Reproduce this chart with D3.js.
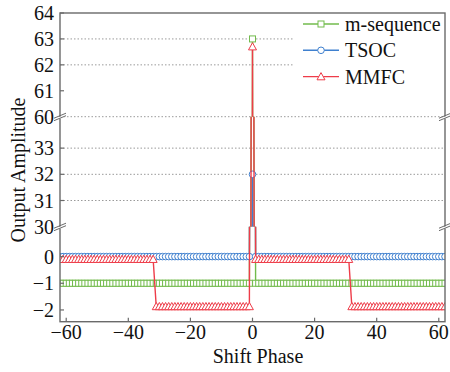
<!DOCTYPE html>
<html>
<head>
<meta charset="utf-8">
<script src="https://cdn.jsdelivr.net/npm/d3@7"></script>
<style>
  body { margin: 0; background: #fff; }
  text { font-family: "Liberation Serif", "DejaVu Serif", serif; fill: #111; }
</style>
</head>
<body>
<script>
// ---- data ----
const shiftPhase = d3.range(-62, 63);          // x categories, one per integer shift
// each series as runs of [value, count] over shiftPhase, left to right
const mseqRuns = [[-1, 62], [63, 1], [-1, 62]];
const tsocRuns = [[0, 62], [32, 1], [0, 62]];
const mmfcRuns = [[-0.1, 31], [-1.87, 31], [62.7, 1], [-0.1, 31], [-1.87, 31]];

const seriesNames = ["m-sequence", "TSOC", "MMFC"];
const xTicks = [-60, -40, -20, 0, 20, 40, 60];
const topTicks = [60, 61, 62, 63, 64];
const midTicks = [30, 31, 32, 33];
const botTicks = [-2, -1, 0];
const topGrid = [60, 62, 63];
const midGrid = [31, 32, 33];

// ---- layout ----
const W = 450, H = 372;
const L = 60, R = 445, T = 13, B = 321.7;
const brk1 = 116.7, brk2 = 226.7;
const axisCol = "#6a6a6a";
const colors = ["#72bb4c", "#3f80cf", "#ee3c49"];
const shapes = ["square", "circle", "triangle"];

let expand = function(runs) {
    let out = [];
    runs.forEach(function(r) { for (let k = 0; k < r[1]; k++) out.push(r[0]); });
    return out.map(function(v, i) { return {x: shiftPhase[i], y: v}; });
};
const series = [expand(mseqRuns), expand(tsocRuns), expand(mmfcRuns)];

const xScale = d3.scaleLinear().domain([-62, 62]).range([L, R]);
const panels = [
    {y: d3.scaleLinear().domain([60, 64]).range([brk1, T]), ticks: topTicks, grid: topGrid},
    {y: d3.scaleLinear().domain([30, 34.2]).range([brk2, brk1]), ticks: midTicks, grid: midGrid},
    {y: d3.scaleLinear().domain([-2.44, 1.12]).range([B, brk2]), ticks: botTicks, grid: []}
];

const svg = d3.select("body").append("svg")
    .attr("width", W).attr("height", H);

// markers
let drawMarker = function(g, shape, cx, cy, col) {
    if (shape === "square") {
        g.append("rect").attr("x", cx - 3).attr("y", cy - 3)
            .attr("width", 6).attr("height", 6)
            .attr("fill", "#fff").attr("stroke", col).attr("stroke-width", 1);
    } else if (shape === "circle") {
        g.append("circle").attr("cx", cx).attr("cy", cy).attr("r", 3.3)
            .attr("fill", "#fff").attr("stroke", col).attr("stroke-width", 1);
    } else {
        g.append("path")
            .attr("d", "M" + cx + "," + (cy - 4) + "L" + (cx + 4) + "," + (cy + 3.2) + "L" + (cx - 4) + "," + (cy + 3.2) + "Z")
            .attr("fill", "#fff").attr("stroke", col).attr("stroke-width", 1);
    }
};

// panels
panels.forEach(function(p, pi) {
    const y0 = p.y.range()[1], y1 = p.y.range()[0];
    const clipId = "clip" + pi;
    svg.append("clipPath").attr("id", clipId)
        .append("rect").attr("x", L).attr("y", y0).attr("width", R - L).attr("height", y1 - y0);

    // grid
    svg.append("g").selectAll("line").data(p.grid).enter().append("line")
        .attr("x1", L).attr("x2", R)
        .attr("y1", function(d) { return p.y(d); })
        .attr("y2", function(d) { return p.y(d); })
        .attr("stroke", "#9a9a9a").attr("stroke-width", 1)
        .attr("stroke-dasharray", "1.5,2");

    const g = svg.append("g").attr("clip-path", "url(#" + clipId + ")");
    const line = d3.line().x(function(d) { return xScale(d.x); }).y(function(d) { return p.y(d.y); });
    series.forEach(function(s, si) {
        g.append("path").datum(s).attr("d", line)
            .attr("fill", "none").attr("stroke", colors[si]).attr("stroke-width", 1.4);
        s.forEach(function(d) {
            const cy = p.y(d.y);
            if (cy < y0 - 6 || cy > y1 + 6) return;
            drawMarker(g, shapes[si], xScale(d.x), cy, colors[si]);
        });
    });
});

// legend
const leg = svg.append("g");
leg.append("rect").attr("x", 293).attr("y", T + 1).attr("width", R - 294).attr("height", 76).attr("fill", "#fff");
seriesNames.forEach(function(name, i) {
    const ly = 24 + i * 26.3;
    leg.append("line").attr("x1", 303).attr("x2", 339).attr("y1", ly).attr("y2", ly)
        .attr("stroke", colors[i]).attr("stroke-width", 1.4);
    drawMarker(leg, shapes[i], 321, ly, colors[i]);
    leg.append("text").attr("x", 345).attr("y", ly).attr("dy", "0.35em")
        .style("font-size", "20px").text(name);
});

// frame
svg.append("rect").attr("x", L).attr("y", T).attr("width", R - L).attr("height", B - T)
    .attr("fill", "none").attr("stroke", axisCol).attr("stroke-width", 1.4);

// x ticks + labels
const xa = svg.append("g");
xa.selectAll("line").data(xTicks).enter().append("line")
    .attr("x1", function(d) { return xScale(d); }).attr("x2", function(d) { return xScale(d); })
    .attr("y1", B).attr("y2", B - 4).attr("stroke", axisCol).attr("stroke-width", 1.2);
xa.selectAll("text").data(xTicks).enter().append("text")
    .attr("x", function(d) { return xScale(d); }).attr("y", 339)
    .attr("text-anchor", "middle").style("font-size", "20px")
    .text(function(d) { return d3.format("")(d); });

// y ticks + labels
panels.forEach(function(p) {
    const ya = svg.append("g");
    const inner = p.ticks.filter(function(d) {
        const py = p.y(d); return Math.abs(py - brk1) > 1 && Math.abs(py - brk2) > 1;
    });
    ya.selectAll("line").data(inner).enter().append("line")
        .attr("x1", L).attr("x2", L + 4)
        .attr("y1", function(d) { return p.y(d); }).attr("y2", function(d) { return p.y(d); })
        .attr("stroke", axisCol).attr("stroke-width", 1.2);
    ya.selectAll("text").data(p.ticks).enter().append("text")
        .attr("x", 54).attr("y", function(d) { return p.y(d); }).attr("dy", "0.35em")
        .attr("text-anchor", "end").style("font-size", "20px")
        .text(function(d) { return d3.format("")(d); });
});

// axis break marks
[brk1, brk2].forEach(function(by) {
    [L, R].forEach(function(bx) {
        const g = svg.append("g");
        g.append("path")
            .attr("d", "M" + (bx - 6) + "," + (by + 2.5) + "L" + (bx + 6) + "," + (by - 2.5) +
                       "L" + (bx + 6) + "," + (by - 0.5) + "L" + (bx - 6) + "," + (by + 4.5) + "Z")
            .attr("fill", "#fff");
        [0, 2.5].forEach(function(o) {
            g.append("line").attr("x1", bx - 6).attr("y1", by + 2.5 + o - 1)
                .attr("x2", bx + 6).attr("y2", by - 2.5 + o - 1)
                .attr("stroke", axisCol).attr("stroke-width", 1);
        });
    });
});

// axis titles
svg.append("text").attr("x", 258).attr("y", 363).attr("text-anchor", "middle")
    .style("font-size", "20px").text("Shift Phase");
svg.append("text").attr("transform", "translate(25,170) rotate(-90)")
    .attr("text-anchor", "middle").style("font-size", "20px").text("Output Amplitude");
</script>
</body>
</html>
